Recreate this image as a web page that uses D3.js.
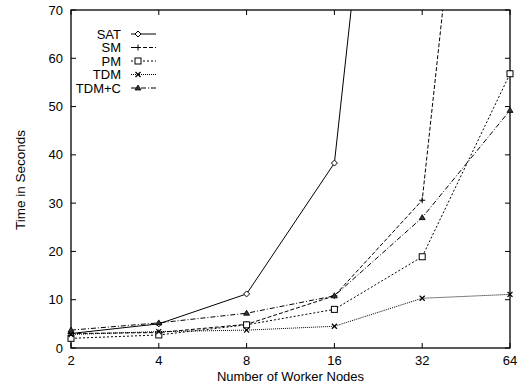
<!DOCTYPE html>
<html>
<head>
<meta charset="utf-8">
<script src="https://cdn.jsdelivr.net/npm/d3@7/dist/d3.min.js"></script>
<style>
  body { margin: 0; background: #fff; }
  text { font-family: "Liberation Sans", Arial, sans-serif; fill: #000; }
</style>
</head>
<body>
<svg width="519" height="386"></svg>
<script>
// data
const nodes = [2, 4, 8, 16, 32, 64];
const yTicks = [0, 10, 20, 30, 40, 50, 60, 70];
const seriesNames = ['SAT', 'SM', 'PM', 'TDM', 'TDM+C'];
const sat  = [3.0, 5.0, 11.2, 38.3, 205];
const sm   = [3.0, 3.2, 4.9, 10.8, 30.6, 199];
const pm   = [2.0, 2.7, 4.8, 8.0, 18.9, 56.8];
const tdm  = [2.8, 3.4, 3.7, 4.5, 10.3, 11.1];
const tdmc = [3.7, 5.2, 7.2, 10.8, 27.0, 49.2];

const svg = d3.select('svg');
const plotL = 71, plotR = 510, plotT = 10, plotB = 348;

const x = d3.scaleLog().base(2).domain([2, 64]).range([plotL, plotR]);
const y = d3.scaleLinear().domain([0, 70]).range([plotB, plotT]);

// line styles, one per series
const styles = [
  {vals: sat,  dash: null,        marker: 'diamond'},
  {vals: sm,   dash: '4,2',       marker: 'plus'},
  {vals: pm,   dash: '2,2',       marker: 'square'},
  {vals: tdm,  dash: '1,1',       marker: 'cross'},
  {vals: tdmc, dash: '5,2,1,2',   marker: 'triangle'}
];

svg.append('clipPath').attr('id', 'clip')
  .append('rect')
  .attr('x', plotL).attr('y', plotT)
  .attr('width', plotR - plotL).attr('height', plotB - plotT);

function marker(g, type, cx, cy) {
  if (type === 'diamond') {
    g.append('path')
      .attr('d', `M${cx},${cy - 3}L${cx + 3},${cy}L${cx},${cy + 3}L${cx - 3},${cy}Z`)
      .attr('fill', '#fff').attr('stroke', '#000');
  } else if (type === 'plus') {
    g.append('path')
      .attr('d', `M${cx - 3},${cy}H${cx + 3}M${cx},${cy - 3}V${cy + 3}`)
      .attr('stroke', '#000');
  } else if (type === 'square') {
    g.append('rect')
      .attr('x', cx - 3).attr('y', cy - 3).attr('width', 6).attr('height', 6)
      .attr('fill', '#fff').attr('stroke', '#000');
  } else if (type === 'cross') {
    g.append('path')
      .attr('d', `M${cx - 2.5},${cy - 2.5}L${cx + 2.5},${cy + 2.5}M${cx - 2.5},${cy + 2.5}L${cx + 2.5},${cy - 2.5}`)
      .attr('stroke', '#000').attr('stroke-width', 1.2);
  } else {
    g.append('path')
      .attr('d', `M${cx},${cy - 3}L${cx + 3},${cy + 2}L${cx - 3},${cy + 2}Z`)
      .attr('fill', '#333').attr('stroke', '#000').attr('stroke-width', 0.8);
  }
}

// axes box with inward ticks on all sides
const axes = svg.append('g');
yTicks.forEach(t => {
  axes.append('line').attr('x1', plotL).attr('x2', plotL + 5)
    .attr('y1', y(t)).attr('y2', y(t)).attr('stroke', '#000');
  axes.append('line').attr('x1', plotR).attr('x2', plotR - 5)
    .attr('y1', y(t)).attr('y2', y(t)).attr('stroke', '#000');
  axes.append('text').attr('x', plotL - 8).attr('y', y(t) + 4.5)
    .attr('text-anchor', 'end').style('font-size', '13px').text(t);
});
nodes.forEach(n => {
  axes.append('line').attr('x1', x(n)).attr('x2', x(n))
    .attr('y1', plotB).attr('y2', plotB - 5).attr('stroke', '#000');
  axes.append('line').attr('x1', x(n)).attr('x2', x(n))
    .attr('y1', plotT).attr('y2', plotT + 5).attr('stroke', '#000');
  axes.append('text').attr('x', x(n)).attr('y', plotB + 17)
    .attr('text-anchor', 'middle').style('font-size', '13px').text(n);
});

// series: lines clipped to the box, markers drawn unclipped
const plot = svg.append('g').attr('clip-path', 'url(#clip)');
const marks = svg.append('g');
const line = d3.line().x((d, i) => x(nodes[i])).y(d => y(d));
styles.forEach(s => {
  plot.append('path')
    .attr('d', line(s.vals))
    .attr('fill', 'none').attr('stroke', '#000').attr('stroke-width', 1)
    .attr('stroke-dasharray', s.dash);
});

// frame
axes.append('rect')
  .attr('x', plotL).attr('y', plotT)
  .attr('width', plotR - plotL).attr('height', plotB - plotT)
  .attr('fill', 'none').attr('stroke', '#000').attr('stroke-width', 1.3);

styles.forEach(s => {
  s.vals.forEach((v, i) => {
    if (v <= 70) marker(marks, s.marker, x(nodes[i]), y(v));
  });
});

// legend
const legend = svg.append('g');
styles.forEach((s, i) => {
  const ly = 34 + i * 13.5;
  legend.append('text').attr('x', 121).attr('y', ly + 4.5)
    .attr('text-anchor', 'end').style('font-size', '13px').text(seriesNames[i]);
  legend.append('line').attr('x1', 131).attr('x2', 156)
    .attr('y1', ly).attr('y2', ly)
    .attr('stroke', '#000').attr('stroke-dasharray', s.dash);
  marker(legend, s.marker, 138, ly);
});

// axis titles
svg.append('text')
  .attr('x', (plotL + plotR) / 2).attr('y', 381)
  .attr('text-anchor', 'middle').style('font-size', '13px')
  .text('Number of Worker Nodes');
svg.append('text')
  .attr('transform', `translate(25,180) rotate(-90)`)
  .attr('text-anchor', 'middle').style('font-size', '13.5px')
  .text('Time in Seconds');
</script>
</body>
</html>
